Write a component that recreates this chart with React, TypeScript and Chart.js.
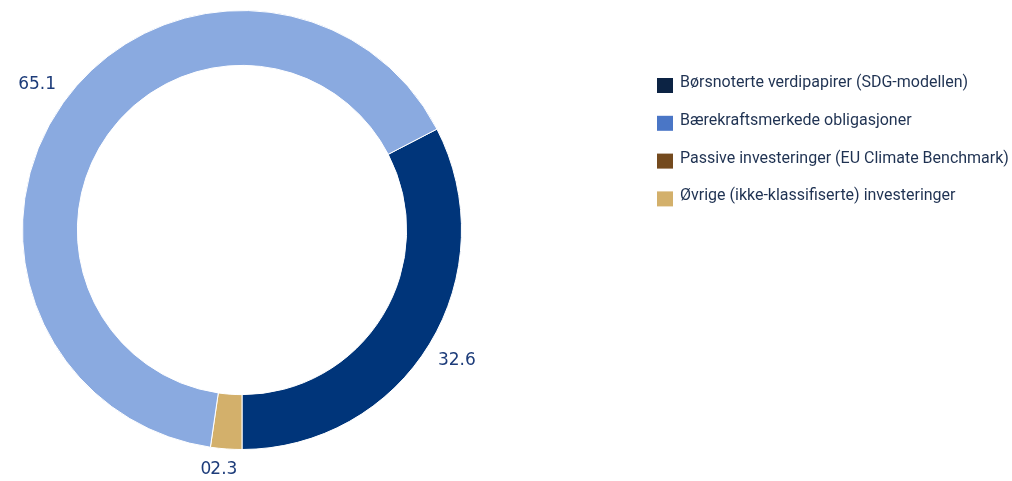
import React, { useEffect, useRef } from "react";
import { Chart, registerables } from "chart.js";

Chart.register(...registerables);

const categories = [
  "Børsnoterte verdipapirer (SDG-modellen)",
  "Bærekraftsmerkede obligasjoner",
  "Passive investeringer (EU Climate Benchmark)",
  "Øvrige (ikke-klassifiserte) investeringer",
];
const values = [32.6, 65.1, 0, 2.3];
const valueLabels = ["32.6", "65.1", "0", "2.3"];
const segmentColors = ["#00357a", "#8aaae0", "#744a1e", "#d3b06b"];
const legendColors = ["#0c2344", "#4a76c6", "#744a1e", "#d3b06b"];
// clockwise drawing order of the categories around the ring
const drawOrder = [0, 2, 3, 1];

const W = 1012;
const H = 481;

const valueLabelPlugin = {
  id: "valueLabels",
  afterDatasetsDraw(chart: any) {
    const ctx = chart.ctx;
    const meta = chart.getDatasetMeta(0);
    ctx.save();
    ctx.font = "17px 'DejaVu Sans'";
    ctx.fillStyle = "#1d3c7a";
    ctx.textAlign = "center";
    ctx.textBaseline = "middle";
    const items: any[] = meta.data.map((arc: any, i: number) => {
      const p = arc.getProps(["x", "y", "startAngle", "endAngle", "outerRadius"], true);
      const mid = (p.startAngle + p.endAngle) / 2;
      const r = p.outerRadius + 32;
      const x = p.x + Math.cos(mid) * r;
      let y = p.y + Math.sin(mid) * r;
      y = Math.min(y, chart.height - 11);
      const text = valueLabels[drawOrder[i]];
      const w = ctx.measureText(text).width;
      return { x, y, text, w, v: values[drawOrder[i]] };
    });
    const placed: any[] = [];
    [...items]
      .sort((a, b) => b.v - a.v)
      .forEach((it) => {
        for (const o of placed) {
          const overlapX = Math.abs(it.x - o.x) < (it.w + o.w) / 2 + 4;
          const overlapY = Math.abs(it.y - o.y) < 14;
          if (overlapX && overlapY) {
            it.x = o.x - o.w / 2 + 1 - it.w / 2;
          }
        }
        placed.push(it);
      });
    items.forEach((it) => ctx.fillText(it.text, it.x, it.y));
    ctx.restore();
  },
};

const legendPlugin = {
  id: "customLegend",
  afterDraw(chart: any) {
    const ctx = chart.ctx;
    ctx.save();
    ctx.font = "16px Roboto";
    ctx.textBaseline = "middle";
    ctx.textAlign = "left";
    categories.forEach((c, i) => {
      const top = 78 + i * 37.8;
      ctx.fillStyle = legendColors[i];
      ctx.fillRect(657, top, 16, 15);
      ctx.fillStyle = "#1f3252";
      ctx.fillText(c, 680, top + 5);
    });
    ctx.restore();
  },
};

export default function App() {
  const ref = useRef<HTMLCanvasElement | null>(null);
  useEffect(() => {
    if (!ref.current) return;
    const total = values.reduce((a, b) => a + b, 0);
    const rotation = 180 - (360 * values[drawOrder[0]]) / total;
    const chart = new Chart(ref.current, {
      type: "doughnut",
      data: {
        labels: drawOrder.map((i) => categories[i]),
        datasets: [
          {
            data: drawOrder.map((i) => values[i]),
            backgroundColor: drawOrder.map((i) => segmentColors[i]),
            borderColor: "#ffffff",
            borderWidth: 1,
          },
        ],
      },
      options: {
        responsive: true,
        maintainAspectRatio: false,
        animation: false,
        rotation,
        cutout: "75%",
        layout: { padding: { left: 22, top: 10, right: 550, bottom: 31 } },
        plugins: {
          legend: { display: false },
          tooltip: { enabled: false },
        },
      },
      plugins: [valueLabelPlugin, legendPlugin],
    });
    return () => chart.destroy();
  }, []);
  return (
    <div style={{ position: "fixed", left: 0, top: 0, width: W, height: H, background: "#ffffff" }}>
      <canvas ref={ref} />
    </div>
  );
}
